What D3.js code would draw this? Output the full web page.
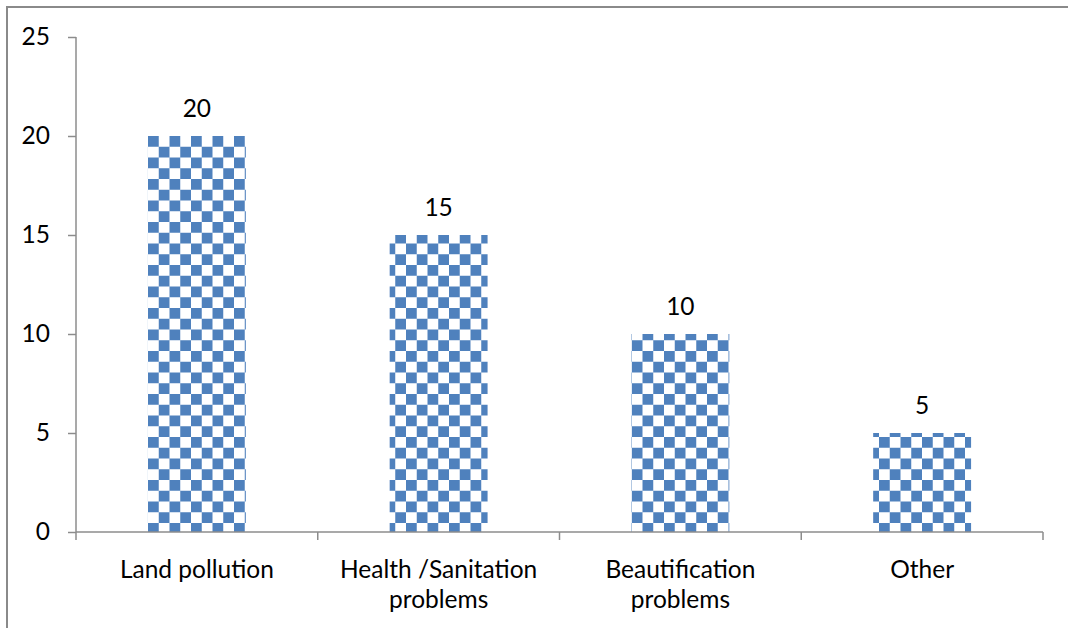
<!DOCTYPE html>
<html>
<head>
<meta charset="utf-8">
<script src="https://cdn.jsdelivr.net/npm/d3@7"></script>
<style>
  html, body { margin: 0; padding: 0; background: #fff; }
  svg { display: block; }
  text { font-family: Lato, "Open Sans", sans-serif; fill: #000; }
</style>
</head>
<body>
<svg id="chart" width="1068" height="628"></svg>
<script>
// Survey responses per problem category
const categories = [["Land pollution"], ["Health /Sanitation", "problems"], ["Beautification", "problems"], ["Other"]];
const values = [20, 15, 10, 5];
const yTicks = [0, 5, 10, 15, 20, 25];

const svg = d3.select("#chart");
const W = 1068, H = 628;
const plot = { left: 76, right: 1043, top: 37, bottom: 532 };
const axisColor = "#8c8c8c";
const barBlue = "#4f81bd";
const fontSize = 24.5;

// Outer frame (runs off the right and bottom edges)
svg.append("rect")
  .attr("x", 7).attr("y", 7)
  .attr("width", W + 20).attr("height", H + 20)
  .attr("fill", "#fff")
  .attr("stroke", "#8a8a8a")
  .attr("stroke-width", 2);

// Checkerboard fill
const cell = 10.75;
const defs = svg.append("defs");
const pat = defs.append("pattern")
  .attr("id", "checker")
  .attr("patternUnits", "userSpaceOnUse")
  .attr("x", 148).attr("y", 136)
  .attr("width", cell * 2).attr("height", cell * 2);
pat.append("rect").attr("width", cell * 2).attr("height", cell * 2).attr("fill", "#fff");
pat.append("rect").attr("x", 0).attr("y", 0).attr("width", cell).attr("height", cell).attr("fill", barBlue);
pat.append("rect").attr("x", cell).attr("y", cell).attr("width", cell).attr("height", cell).attr("fill", barBlue);

defs.append("filter").attr("id", "soft")
  .append("feGaussianBlur").attr("stdDeviation", 0.45);

const x = d3.scaleBand()
  .domain(d3.range(categories.length))
  .range([plot.left, plot.right])
  .padding(0);

const y = d3.scaleLinear()
  .domain([0, 25])
  .range([plot.bottom, plot.top]);

const barFrac = 0.405;
const barW = x.bandwidth() * barFrac;

// Bars
svg.append("g").attr("filter", "url(#soft)")
  .selectAll("rect")
  .data(values)
  .join("rect")
  .attr("x", (d, i) => x(i) + (x.bandwidth() - barW) / 2)
  .attr("y", d => y(d))
  .attr("width", barW)
  .attr("height", d => y(0) - y(d))
  .attr("fill", "url(#checker)");

// Y axis
const yAxis = d3.axisLeft(y).tickValues(yTicks).tickSize(8).tickPadding(18).tickFormat(d3.format("d"));
const gy = svg.append("g").attr("transform", `translate(${plot.left},0)`).call(yAxis);
gy.select(".domain").attr("d", `M0,${plot.top}V${plot.bottom + 8}`);
gy.selectAll(".domain, .tick line").attr("stroke", axisColor).attr("stroke-width", 1.5);
gy.selectAll(".tick text").attr("font-size", fontSize).attr("font-family", "Lato, sans-serif").attr("fill", "#000");

// X axis baseline with separators between categories
const xg = svg.append("g");
xg.append("line")
  .attr("x1", plot.left).attr("x2", plot.right)
  .attr("y1", y(0)).attr("y2", y(0))
  .attr("stroke", axisColor).attr("stroke-width", 1.5);
xg.selectAll("line.sep")
  .data(d3.range(1, categories.length + 1))
  .join("line")
  .attr("class", "sep")
  .attr("x1", i => x(i - 1) + x.bandwidth()).attr("x2", i => x(i - 1) + x.bandwidth())
  .attr("y1", y(0)).attr("y2", y(0) + 8)
  .attr("stroke", axisColor).attr("stroke-width", 1.5);

// Category labels
const lab = svg.append("g").selectAll("text")
  .data(categories)
  .join("text")
  .attr("x", (d, i) => x(i) + x.bandwidth() / 2)
  .attr("y", 578)
  .attr("text-anchor", "middle")
  .attr("font-size", fontSize);
lab.selectAll("tspan")
  .data(d => d)
  .join("tspan")
  .attr("x", function () { return d3.select(this.parentNode).attr("x"); })
  .attr("dy", (d, j) => j === 0 ? 0 : 30)
  .text(d => d);

// Value labels
svg.append("g").selectAll("text")
  .data(values)
  .join("text")
  .attr("x", (d, i) => x(i) + x.bandwidth() / 2)
  .attr("y", d => y(d) - 19)
  .attr("text-anchor", "middle")
  .attr("font-size", fontSize)
  .text(d => d);
</script>
</body>
</html>
